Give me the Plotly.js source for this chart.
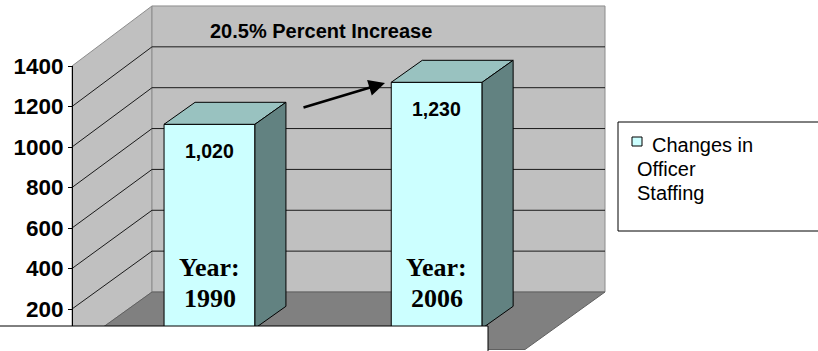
<!DOCTYPE html>
<html>
<head>
<meta charset="utf-8">
<script src="https://cdn.plot.ly/plotly-3.0.1.min.js"></script>
<style>html,body{margin:0;padding:0;background:#fff;}#chart{width:818px;height:351px;}</style>
</head>
<body>
<div id="chart"></div>
<script>
// ---- data ----
const years = ['1990', '2006'];
const officers = [1020, 1230];
const valueLabels = ['1,020', '1,230'];
const tickValues = [200, 400, 600, 800, 1000, 1200, 1400];
const tickLabels = ['200', '400', '600', '800', '1000', '1200', '1400'];
const chartNote = '20.5% Percent Increase';
const seriesName = ['Changes in', 'Officer', 'Staffing'];

// ---- geometry helpers (pixel -> paper) ----
const W = 818, H = 351;
const PX = x => x / W;
const PY = y => 1 - y / H;
const frontY = v => 349.5 - 0.2025 * v;   // front plane of the 3-D box
const backY = v => 292 - 0.2043 * v;      // back wall
const xL = 72, xB = 152, xR = 605, xFR = 525;

// bar depth in axis units
const pxPerCat = 227.2, pxPerVal = 0.2;
const barW = 0.4;
const dX = 31 / pxPerCat, dY = 22 / pxPerVal;

const idx = years.map((_, i) => i);

const traces = [];
traces.push({
  type: 'bar', x: idx, y: officers, width: barW,
  marker: {color: '#CCFFFF', line: {color: '#000', width: 1}},
  hoverinfo: 'skip', showlegend: false
});
idx.forEach((i, k) => {
  const v = officers[k];
  const l = i - barW / 2, r = i + barW / 2;
  traces.push({
    type: 'scatter', mode: 'lines', fill: 'toself', fillcolor: '#99C2C0',
    x: [l, r, r + dX, l + dX, l], y: [v, v, v + dY, v + dY, v],
    line: {color: '#000', width: 1}, hoverinfo: 'skip', showlegend: false
  });
  traces.push({
    type: 'scatter', mode: 'lines', fill: 'toself', fillcolor: '#628281',
    x: [r, r + dX, r + dX, r, r], y: [v, v + dY, dY, 0, v],
    line: {color: '#000', width: 1}, hoverinfo: 'skip', showlegend: false
  });
});
// carrier trace for the value axis
traces.push({type: 'scatter', mode: 'markers', x: [0], y: [tickValues[0]], yaxis: 'y2',
  marker: {opacity: 0}, hoverinfo: 'skip', showlegend: false});

// ---- decorations ----
const shapes = [];
const wallGray = '#C0C0C0', edge = '#8C8C8C';
const path = pts => 'M' + pts.map(p => PX(p[0]) + ',' + PY(p[1])).join('L') + 'Z';
// left side wall
shapes.push({type: 'path', xref: 'paper', yref: 'paper', layer: 'below',
  path: path([[xL, frontY(1400)], [xB, backY(1400)], [xB, backY(0)], [xL, frontY(0)]]),
  fillcolor: wallGray, line: {color: edge, width: 1}});
// back wall
shapes.push({type: 'rect', xref: 'paper', yref: 'paper', layer: 'below',
  x0: PX(xB), x1: PX(xR), y0: PY(backY(0)), y1: PY(backY(1400)),
  fillcolor: wallGray, line: {color: edge, width: 1}});
// floor
shapes.push({type: 'path', xref: 'paper', yref: 'paper', layer: 'below',
  path: path([[xL, frontY(0)], [xB, backY(0)], [xR, backY(0)], [xFR, frontY(0)]]),
  fillcolor: '#808080', line: {color: '#606060', width: 1}});
// gridlines
tickValues.filter(v => v < 1400).forEach(v => {
  shapes.push({type: 'line', xref: 'paper', yref: 'paper', layer: 'below',
    x0: PX(xB), x1: PX(xR), y0: PY(backY(v)), y1: PY(backY(v)),
    line: {color: '#1a1a1a', width: 1}});
  shapes.push({type: 'line', xref: 'paper', yref: 'paper', layer: 'below',
    x0: PX(xL), x1: PX(xB), y0: PY(frontY(v)), y1: PY(backY(v)),
    line: {color: '#1a1a1a', width: 1}});
});
// white box covering the bottom
shapes.push({type: 'rect', xref: 'paper', yref: 'paper', layer: 'above',
  x0: PX(-5), x1: PX(488), y0: PY(360), y1: PY(326),
  fillcolor: '#fff', line: {color: '#000', width: 1}});
// legend box & key
shapes.push({type: 'rect', xref: 'paper', yref: 'paper', layer: 'above',
  x0: PX(618), x1: PX(830), y0: PY(231), y1: PY(122),
  fillcolor: '#fff', line: {color: '#000', width: 1}});
shapes.push({type: 'rect', xref: 'paper', yref: 'paper', layer: 'above',
  x0: PX(632), x1: PX(642), y0: PY(146), y1: PY(137),
  fillcolor: '#CCFFFF', line: {color: '#000', width: 1}});

// ---- annotations ----
const sans = 'Liberation Sans, Arial, sans-serif';
const serif = 'Liberation Serif, Times New Roman, serif';
const annotations = [];
annotations.push({xref: 'paper', yref: 'paper', x: PX(208), y: PY(31), xanchor: 'left', yanchor: 'middle',
  text: chartNote, showarrow: false, font: {family: sans, size: 20, weight: 'bold', color: '#000'}});
idx.forEach((i, k) => {
  annotations.push({xref: 'x', yref: 'y', x: i, y: officers[k], yshift: -27, xanchor: 'center', yanchor: 'middle',
    text: valueLabels[k], showarrow: false, font: {family: sans, size: 19.5, weight: 'bold', color: '#000'}});
  annotations.push({xref: 'x', yref: 'paper', x: i, y: PY(267), xanchor: 'center', yanchor: 'middle',
    text: 'Year:', showarrow: false, font: {family: serif, size: 26, weight: 'bold', color: '#000'}});
  annotations.push({xref: 'x', yref: 'paper', x: i, y: PY(298), xanchor: 'center', yanchor: 'middle',
    text: years[k], showarrow: false, font: {family: serif, size: 26, weight: 'bold', color: '#000'}});
});
// arrow between bars
annotations.push({xref: 'paper', yref: 'paper', x: PX(385), y: PY(83), ax: -83, ay: 25,
  text: '', showarrow: true, arrowhead: 2, arrowsize: 1.3, arrowwidth: 2.5, arrowcolor: '#000', standoff: 0});
// legend text
annotations.push({xref: 'paper', yref: 'paper', x: PX(650), y: PY(145), xanchor: 'left', yanchor: 'middle',
  text: seriesName[0], showarrow: false, font: {family: sans, size: 20, color: '#000'}});
annotations.push({xref: 'paper', yref: 'paper', x: PX(635), y: PY(169), xanchor: 'left', yanchor: 'middle',
  text: seriesName[1], showarrow: false, font: {family: sans, size: 20, color: '#000'}});
annotations.push({xref: 'paper', yref: 'paper', x: PX(635), y: PY(193), xanchor: 'left', yanchor: 'middle',
  text: seriesName[2], showarrow: false, font: {family: sans, size: 20, color: '#000'}});

const layout = {
  width: W, height: H,
  margin: {l: 0, r: 0, t: 0, b: 0, pad: 0},
  paper_bgcolor: '#fff', plot_bgcolor: 'rgba(0,0,0,0)',
  showlegend: false,
  xaxis: {range: [-209.5 / pxPerCat, (W - 209.5) / pxPerCat], visible: false, fixedrange: true},
  yaxis: {range: [-(H - 328.3) / pxPerVal, 328.3 / pxPerVal], visible: false, fixedrange: true},
  yaxis2: {
    domain: [PY(326), PY(66)],
    range: [200 - (326 - 309) / 0.2025, 1400],
    anchor: 'free', position: PX(xL), side: 'left',
    tickmode: 'array', tickvals: tickValues, ticktext: tickLabels,
    ticks: 'outside', ticklen: 4, tickcolor: '#000', tickwidth: 1,
    showline: true, linecolor: '#000', linewidth: 1,
    showgrid: false, zeroline: false,
    tickfont: {family: sans, size: 22.5, weight: 'bold', color: '#000'}
  },
  shapes: shapes,
  annotations: annotations
};

Plotly.newPlot('chart', traces, layout, {staticPlot: true, displayModeBar: false});
</script>
</body>
</html>
